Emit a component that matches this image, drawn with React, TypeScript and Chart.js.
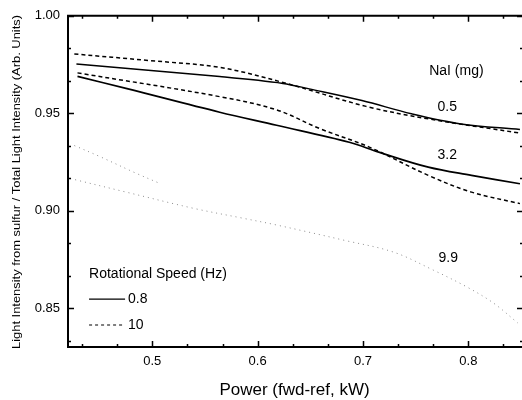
import React, { useEffect, useRef } from "react";
import { Chart, registerables } from "chart.js";

Chart.register(...registerables);

// Power (fwd-ref, kW) and intensity ratio readings
const solid05X = [0.428, 0.564, 0.624, 0.649, 0.699, 0.746, 0.793, 0.849];
const solid05Y = [0.9753, 0.9688, 0.9653, 0.9625, 0.9565, 0.9497, 0.9445, 0.9416];

const dashed05X = [0.426, 0.498, 0.564, 0.624, 0.703, 0.762, 0.849];
const dashed05Y = [0.9804, 0.977, 0.9735, 0.9658, 0.9535, 0.9471, 0.9398];

const solid32X = [0.429, 0.476, 0.564, 0.618, 0.687, 0.715, 0.762, 0.803, 0.849];
const solid32Y = [0.9689, 0.9626, 0.9505, 0.9438, 0.9351, 0.93, 0.9223, 0.9181, 0.9138];

const dashed32X = [0.429, 0.564, 0.618, 0.659, 0.706, 0.762, 0.803, 0.849];
const dashed32Y = [0.9707, 0.9585, 0.9517, 0.9421, 0.9326, 0.9181, 0.9095, 0.9036];

const dotted99aX = [0.426, 0.45, 0.485, 0.507];
const dotted99aY = [0.9334, 0.9278, 0.9191, 0.914];

const dotted99bX = [0.422, 0.476, 0.539, 0.586, 0.619, 0.682, 0.729, 0.767, 0.799, 0.824, 0.847];
const dotted99bY = [0.9165, 0.9094, 0.9012, 0.8961, 0.8925, 0.8848, 0.8787, 0.8694, 0.8607, 0.8525, 0.8423];

const xTicks = [0.5, 0.6, 0.7, 0.8];
const yTicks = [0.85, 0.9, 0.95, 1.0];

const curveLabels = ["NaI (mg)", "0.5", "3.2", "9.9"];
const curveLabelX = [0.7887, 0.78, 0.78, 0.781];
const curveLabelY = [0.9718, 0.9529, 0.9283, 0.8756];

const legendTitle = "Rotational Speed (Hz)";
const legendLabels = ["0.8", "10"];

const xTitle = "Power (fwd-ref, kW)";
const yTitle = "Light Intensity from sulfur / Total Light Intensity (Arb. Units)";

const FONT = "'Liberation Sans', Arial, sans-serif";

const zip = (xs: number[], ys: number[]) => xs.map((x, i) => ({ x, y: ys[i] }));

export default function App() {
  const ref = useRef<HTMLCanvasElement | null>(null);

  useEffect(() => {
    if (!ref.current) return;

    const overlay = {
      id: "overlay",
      afterDraw(chart: any) {
        const { ctx, chartArea, scales } = chart;
        const xs = scales.x;
        const ys = scales.y;
        const { left, right, top, bottom } = chartArea;
        ctx.save();
        ctx.strokeStyle = "#000";
        ctx.fillStyle = "#000";

        // frame (right edge falls just outside the picture)
        ctx.lineWidth = 2;
        ctx.beginPath();
        ctx.moveTo(right + 2, top);
        ctx.lineTo(left, top);
        ctx.lineTo(left, bottom);
        ctx.lineTo(right + 2, bottom);
        ctx.stroke();

        // ticks
        ctx.lineWidth = 1.5;
        const xStep = 0.1 / 3;
        for (let k = -3; k <= 12; k++) {
          const v = 0.5 + k * xStep;
          if (v < xs.min || v > xs.max) continue;
          const major = k % 3 === 0;
          const len = major ? 6 : 3;
          const px = Math.round(xs.getPixelForValue(v)) + 0.5;
          ctx.beginPath();
          ctx.moveTo(px, bottom);
          ctx.lineTo(px, bottom - len);
          ctx.moveTo(px, top);
          ctx.lineTo(px, top + len);
          ctx.stroke();
        }
        const yStep = 0.05 / 3;
        for (let k = -2; k <= 9; k++) {
          const v = 0.85 + k * yStep;
          if (v < ys.min - 1e-9 || v > ys.max + 1e-9) continue;
          const major = k % 3 === 0;
          const len = major ? 6 : 3;
          const py = Math.round(ys.getPixelForValue(v)) + 0.5;
          ctx.beginPath();
          ctx.moveTo(left, py);
          ctx.lineTo(left + len, py);
          ctx.moveTo(right + 2, py);
          ctx.lineTo(right + 2 - len, py);
          ctx.stroke();
        }

        // curve labels
        ctx.font = `14px ${FONT}`;
        ctx.textAlign = "center";
        ctx.textBaseline = "middle";
        curveLabels.forEach((t, i) => {
          ctx.fillText(t, xs.getPixelForValue(curveLabelX[i]), ys.getPixelForValue(curveLabelY[i]));
        });

        // legend
        ctx.textAlign = "left";
        const lx = xs.getPixelForValue(0.44);
        ctx.fillText(legendTitle, lx, ys.getPixelForValue(0.8674));
        const rows = [0.8546, 0.8413];
        rows.forEach((v, i) => {
          const py = ys.getPixelForValue(v);
          ctx.beginPath();
          ctx.lineWidth = 1.2;
          ctx.setLineDash(i === 0 ? [] : [3, 3]);
          ctx.moveTo(lx, py);
          ctx.lineTo(lx + 36, py);
          ctx.stroke();
          ctx.setLineDash([]);
          ctx.fillText(legendLabels[i], lx + 39, py);
        });

        // axis titles
        ctx.font = `17px ${FONT}`;
        ctx.textAlign = "center";
        ctx.fillText(xTitle, (left + right) / 2, 390);

        ctx.save();
        ctx.translate(17, 182);
        ctx.rotate(-Math.PI / 2);
        ctx.font = `11px ${FONT}`;
        const w = ctx.measureText(yTitle).width;
        ctx.scale(334 / w, 1);
        ctx.fillText(yTitle, 0, 0);
        ctx.restore();

        ctx.restore();
      },
    };

    const chart = new Chart(ref.current, {
      type: "line",
      data: {
        datasets: [
          { data: zip(solid05X, solid05Y), borderColor: "#000", borderWidth: 1.5 },
          { data: zip(dashed05X, dashed05Y), borderColor: "#000", borderWidth: 1.5, borderDash: [4, 3] },
          { data: zip(solid32X, solid32Y), borderColor: "#000", borderWidth: 1.7 },
          { data: zip(dashed32X, dashed32Y), borderColor: "#000", borderWidth: 1.5, borderDash: [4, 3] },
          { data: zip(dotted99aX, dotted99aY), borderColor: "#8a8a8a", borderWidth: 1, borderDash: [1, 4] },
          { data: zip(dotted99bX, dotted99bY), borderColor: "#8a8a8a", borderWidth: 1, borderDash: [1, 4] },
        ] as any,
      },
      options: {
        animation: false,
        responsive: true,
        maintainAspectRatio: false,
        parsing: false as any,
        layout: { padding: { top: 15, right: 1, left: 0, bottom: 0 } },
        elements: {
          point: { radius: 0 },
          line: { tension: 0.35, fill: false },
        },
        plugins: { legend: { display: false }, tooltip: { enabled: false } },
        scales: {
          x: {
            type: "linear",
            min: 0.42,
            max: 0.85,
            grid: { display: false, drawTicks: false },
            border: { display: false },
            afterBuildTicks: (s: any) => {
              s.ticks = xTicks.map((value) => ({ value }));
            },
            afterFit: (s: any) => {
              s.height = 53;
            },
            ticks: {
              padding: 7,
              color: "#000",
              font: { family: FONT, size: 13 },
              callback: (v: any) => Number(v).toFixed(1),
            },
          },
          y: {
            type: "linear",
            min: 0.83,
            max: 1.0,
            grid: { display: false, drawTicks: false },
            border: { display: false },
            afterBuildTicks: (s: any) => {
              s.ticks = yTicks.map((value) => ({ value }));
            },
            afterFit: (s: any) => {
              s.width = 68;
            },
            ticks: {
              padding: 8,
              color: "#000",
              font: { family: FONT, size: 13 },
              callback: (v: any) => Number(v).toFixed(2),
            },
          },
        },
      },
      plugins: [overlay],
    });

    return () => chart.destroy();
  }, []);

  return (
    <div style={{ position: "absolute", left: 0, top: 0, width: 522, height: 400, background: "#fff" }}>
      <canvas ref={ref} />
    </div>
  );
}
